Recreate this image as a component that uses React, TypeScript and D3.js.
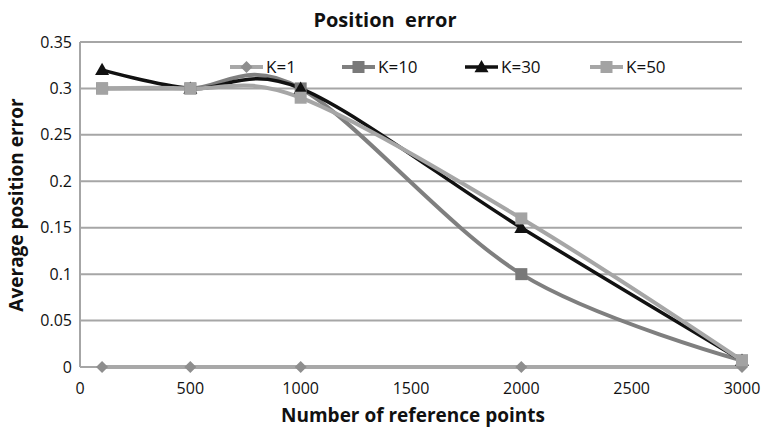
import React from "react";
import * as d3 from "d3";

// Chart data
const xValues = [100, 500, 1000, 2000, 3000];
const seriesNames = ["K=1", "K=10", "K=30", "K=50"];
const k1 = [0, 0, 0, 0, 0];
const k10 = [0.3, 0.3, 0.3, 0.1, 0.007];
const k30 = [0.32, 0.3, 0.3, 0.15, 0.007];
const k50 = [0.3, 0.3, 0.29, 0.16, 0.007];
const xTicks = [0, 500, 1000, 1500, 2000, 2500, 3000];
const yTicks = [0, 0.05, 0.1, 0.15, 0.2, 0.25, 0.3, 0.35];

const W = 763;
const H = 433;
const FONT = "'Open Sans', 'Noto Sans', sans-serif";

type Style = {
  line: string;
  marker: string;
  shape: "diamond" | "square" | "triangle";
  width: number;
};

const styles: Style[] = [
  { line: "#a8a8a8", marker: "#8e8e8e", shape: "diamond", width: 4 },
  { line: "#7f7f7f", marker: "#797979", shape: "square", width: 4 },
  { line: "#111111", marker: "#111111", shape: "triangle", width: 3.5 },
  { line: "#a6a6a6", marker: "#a3a3a3", shape: "square", width: 4 },
];

const seriesValues = [k1, k10, k30, k50];

function Marker({ shape, x, y, fill }: { shape: Style["shape"]; x: number; y: number; fill: string }) {
  if (shape === "square") {
    return <rect x={x - 6} y={y - 6} width={12} height={12} fill={fill} />;
  }
  if (shape === "diamond") {
    const r = 6;
    return <path d={`M${x},${y - r}L${x + r},${y}L${x},${y + r}L${x - r},${y}Z`} fill={fill} />;
  }
  const s = 7;
  return <path d={`M${x},${y - s}L${x + s},${y + s * 0.75}L${x - s},${y + s * 0.75}Z`} fill={fill} />;
}

export default function App() {
  const x = d3.scaleLinear().domain([0, 3000]).range([80, 742]);
  const y = d3.scaleLinear().domain([0, 0.35]).range([367, 42]);

  const line = d3
    .line<number>()
    .x((_, i) => x(xValues[i]))
    .y((d) => y(d))
    .curve(d3.curveCardinal.tension(0));

  const legendX = [230, 342, 465, 590];
  const legendY = 67;

  return (
    <svg
      width={W}
      height={H}
      style={{ position: "absolute", left: 0, top: 0, background: "#fff" }}
      fontFamily={FONT}
    >
      {/* gridlines */}
      {yTicks.map((t) => (
        <line key={t} x1={x(0)} x2={x(3000)} y1={y(t)} y2={y(t)} stroke="#a6a6a6" strokeWidth={2} />
      ))}
      {/* y axis line */}
      <line x1={x(0)} x2={x(0)} y1={y(0.35)} y2={y(0)} stroke="#a6a6a6" strokeWidth={2} />

      {/* y tick labels */}
      {yTicks.map((t) => (
        <text key={t} x={72} y={y(t)} dy="0.35em" textAnchor="end" fontSize={16} fill="#111">
          {String(t)}
        </text>
      ))}
      {/* x tick labels */}
      {xTicks.map((t) => (
        <text key={t} x={x(t)} y={394} textAnchor="middle" fontSize={16} fill="#111">
          {t}
        </text>
      ))}

      {/* series lines */}
      {seriesValues.map((vals, i) => (
        <path
          key={seriesNames[i]}
          d={line(vals) ?? ""}
          fill="none"
          stroke={styles[i].line}
          strokeWidth={styles[i].width}
          strokeLinejoin="round"
        />
      ))}
      {/* series markers */}
      {seriesValues.map((vals, i) => (
        <g key={seriesNames[i] + "-m"}>
          {vals.map((v, j) => (
            <Marker key={j} shape={styles[i].shape} x={x(xValues[j])} y={y(v)} fill={styles[i].marker} />
          ))}
        </g>
      ))}

      {/* legend */}
      {seriesNames.map((name, i) => (
        <g key={name} transform={`translate(${legendX[i]},${legendY})`}>
          <line x1={0} x2={33} y1={0} y2={0} stroke={styles[i].line} strokeWidth={styles[i].width} />
          <Marker shape={styles[i].shape} x={16.5} y={0} fill={styles[i].marker} />
          <text x={36} y={0} dy="0.35em" fontSize={17} fill="#111">
            {name}
          </text>
        </g>
      ))}

      {/* title */}
      <text x={385} y={27} textAnchor="middle" fontSize={20} fontWeight="bold" fill="#111" style={{ whiteSpace: "pre" }}>
        {"Position  error"}
      </text>
      {/* axis titles */}
      <text x={413} y={422} textAnchor="middle" fontSize={19} fontWeight="bold" fill="#111">
        Number of reference points
      </text>
      <text
        transform={`translate(23,205) rotate(-90)`}
        textAnchor="middle"
        fontSize={19}
        fontWeight="bold"
        fill="#111"
      >
        Average position error
      </text>
    </svg>
  );
}
